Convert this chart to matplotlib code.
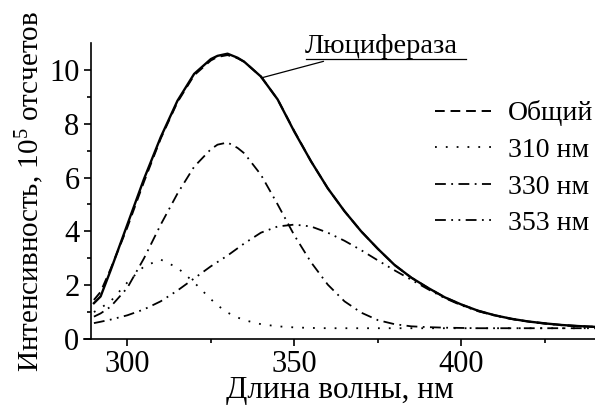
import matplotlib
matplotlib.use("Agg")
import matplotlib.pyplot as plt
import numpy as np

plt.rcParams['font.family'] = ['Liberation Serif', 'DejaVu Serif']
plt.rcParams['mathtext.fontset'] = 'custom'
plt.rcParams['mathtext.rm'] = 'Liberation Serif'
plt.rcParams['mathtext.it'] = 'Liberation Serif:italic'

# длина волны, нм
wl = [290, 292, 295, 300, 305, 310, 315, 320, 325, 327, 330, 333, 335, 340, 345, 350, 355, 360,
      365, 370, 375, 380, 385, 390, 395, 400, 405, 410, 415, 420, 425, 430, 435, 440]
# люцифераза (эксперимент)
luc = [1.33, 1.58, 2.55, 4.25, 5.95, 7.5, 8.85, 9.85, 10.4, 10.52, 10.6, 10.45, 10.3, 9.75, 8.9, 7.7, 6.6, 5.6,
       4.75, 4.0, 3.35, 2.75, 2.28, 1.9, 1.55, 1.28, 1.05, 0.88, 0.75, 0.65, 0.58, 0.52, 0.48, 0.45]
# общий (сумма компонент)
total = [1.45, 1.75, 2.6, 4.15, 5.85, 7.45, 8.8, 9.8, 10.35, 10.48, 10.55, 10.43, 10.3, 9.75, 8.9, 7.72, 6.6, 5.6,
         4.75, 4.0, 3.35, 2.75, 2.28, 1.9, 1.55, 1.28, 1.05, 0.88, 0.75, 0.65, 0.58, 0.52, 0.48, 0.45]
c310 = [1.0, 1.15, 1.4, 2.1, 2.7, 2.95, 2.65, 2.1, 1.48, 1.25, 0.98, 0.8, 0.7, 0.55, 0.47, 0.43, 0.41, 0.4,
        0.4, 0.4, 0.4, 0.4, 0.4, 0.4, 0.4, 0.4, 0.4, 0.4, 0.4, 0.4, 0.4, 0.4, 0.4, 0.4]
c330 = [0.83, 0.95, 1.2, 1.9, 3.0, 4.25, 5.4, 6.4, 7.05, 7.22, 7.3, 7.1, 6.9, 6.1, 5.0, 3.85, 2.85, 2.02,
        1.4, 0.98, 0.7, 0.55, 0.47, 0.44, 0.42, 0.41, 0.4, 0.4, 0.4, 0.4, 0.4, 0.4, 0.4, 0.4]
c353 = [0.59, 0.64, 0.72, 0.88, 1.1, 1.4, 1.8, 2.25, 2.7, 2.86, 3.1, 3.37, 3.55, 3.95, 4.18, 4.25, 4.18, 3.95,
        3.65, 3.3, 2.92, 2.55, 2.2, 1.85, 1.52, 1.25, 1.03, 0.87, 0.74, 0.64, 0.57, 0.51, 0.47, 0.45]

fig = plt.figure(figsize=(5.95, 4.05), dpi=100)
ax = fig.add_axes([0.141, 0.163, 0.859, 0.731])

ax.plot(wl, total, color='black', lw=1.4, ls=(0, (5, 3)), label='Общий')
ax.plot(wl, luc, color='black', lw=1.7, ls='-')
ax.plot(wl, c310, color='black', lw=1.3, ls=(0, (1, 5)), label='310 нм')
ax.plot(wl, c330, color='black', lw=1.3, ls=(0, (6, 3, 1, 3)), label='330 нм')
ax.plot(wl, c353, color='black', lw=1.3, ls=(0, (6, 3, 1, 3, 1, 3)), label='353 нм')

ax.set_xlim(287, 440)
ax.set_ylim(0, 11)
ax.spines['top'].set_visible(False)
ax.spines['right'].set_visible(False)
ax.spines['left'].set_position(('data', 289))
for s in ('left', 'bottom'):
    ax.spines[s].set_linewidth(1.2)

ax.set_xticks([300, 350, 400])
ax.set_xticks([325, 375, 425], minor=True)
ax.set_yticks([0, 2, 4, 6, 8, 10])
ax.set_yticks([1, 3, 5, 7, 9], minor=True)
ax.tick_params(which='major', direction='out', length=5, width=1.2, labelsize=22, pad=3)
ax.tick_params(which='minor', direction='out', length=3, width=1.2)

ax.set_xlabel('Длина волны, нм', fontsize=22.5, labelpad=-2)
ax.set_ylabel('Интенсивность, 10$^5$ отсчетов', fontsize=21, labelpad=2)

ax.annotate('Люцифераза', xy=(340.1, 9.7), xytext=(353.0, 10.42),
            fontsize=20.5, ha='left', va='bottom',
            arrowprops=dict(arrowstyle='-', color='black', lw=0.9, shrinkA=0, shrinkB=0))
ax.plot([353.6, 401.5], [10.41, 10.41], color='black', lw=0.9, clip_on=False)

leg = ax.legend(loc='upper right', bbox_to_anchor=(1.045, 0.89), frameon=False,
                fontsize=20, handlelength=2.0, handletextpad=0.6, labelspacing=0.4)

fig.savefig('out.png', dpi=100)
